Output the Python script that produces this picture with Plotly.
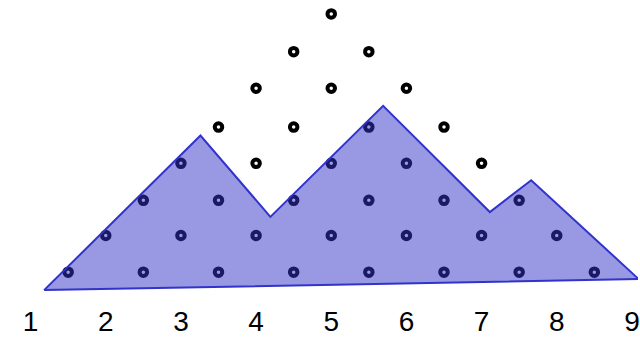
import plotly.graph_objects as go

# Axis labels along the bottom
tick_values = [1, 2, 3, 4, 5, 6, 7, 8, 9]
tick_labels = ["1", "2", "3", "4", "5", "6", "7", "8", "9"]

# Triangular lattice of points: row k holds (9 - k) points starting at x = 1 + k/2
row_numbers = [1, 2, 3, 4, 5, 6, 7, 8]
row_levels = [0.41, 1.41, 2.37, 3.38, 4.37, 5.43, 6.43, 7.46]

# Mountain outline (closed polygon)
path_x = [1.18, 3.26, 4.19, 5.69, 7.11, 7.66, 9.09, 1.18]
path_y = [-0.08, 4.14, 1.92, 4.95, 2.05, 2.92, 0.22, -0.08]

dot_x, dot_y = [], []
for k, level in zip(row_numbers, row_levels):
    for j in range(9 - k):
        dot_x.append(1 + k / 2 + j)
        dot_y.append(level)

fig = go.Figure()
fig.add_trace(go.Scatter(
    x=dot_x, y=dot_y, mode="markers",
    marker=dict(symbol="circle-open", size=7.5, color="black", line=dict(width=4)),
    hoverinfo="skip", showlegend=False,
))
fig.add_trace(go.Scatter(
    x=path_x, y=path_y, mode="lines", fill="toself",
    fillcolor="rgba(50,50,200,0.5)",
    line=dict(color="rgb(50,50,205)", width=2),
    hoverinfo="skip", showlegend=False,
))

fig.update_layout(
    width=640, height=337,
    margin=dict(l=0, r=0, t=0, b=32),
    paper_bgcolor="white", plot_bgcolor="white",
    xaxis=dict(
        range=[0.593, 9.081], tickvals=tick_values, ticktext=tick_labels,
        showgrid=False, zeroline=False, showline=False, ticks="",
        tickfont=dict(family="Liberation Sans", size=28, color="black"),
        ticklabeloverflow="allow",
    ),
    yaxis=dict(range=[-0.405, 7.84], visible=False, showgrid=False, zeroline=False),
)

fig.write_html("out.html")
